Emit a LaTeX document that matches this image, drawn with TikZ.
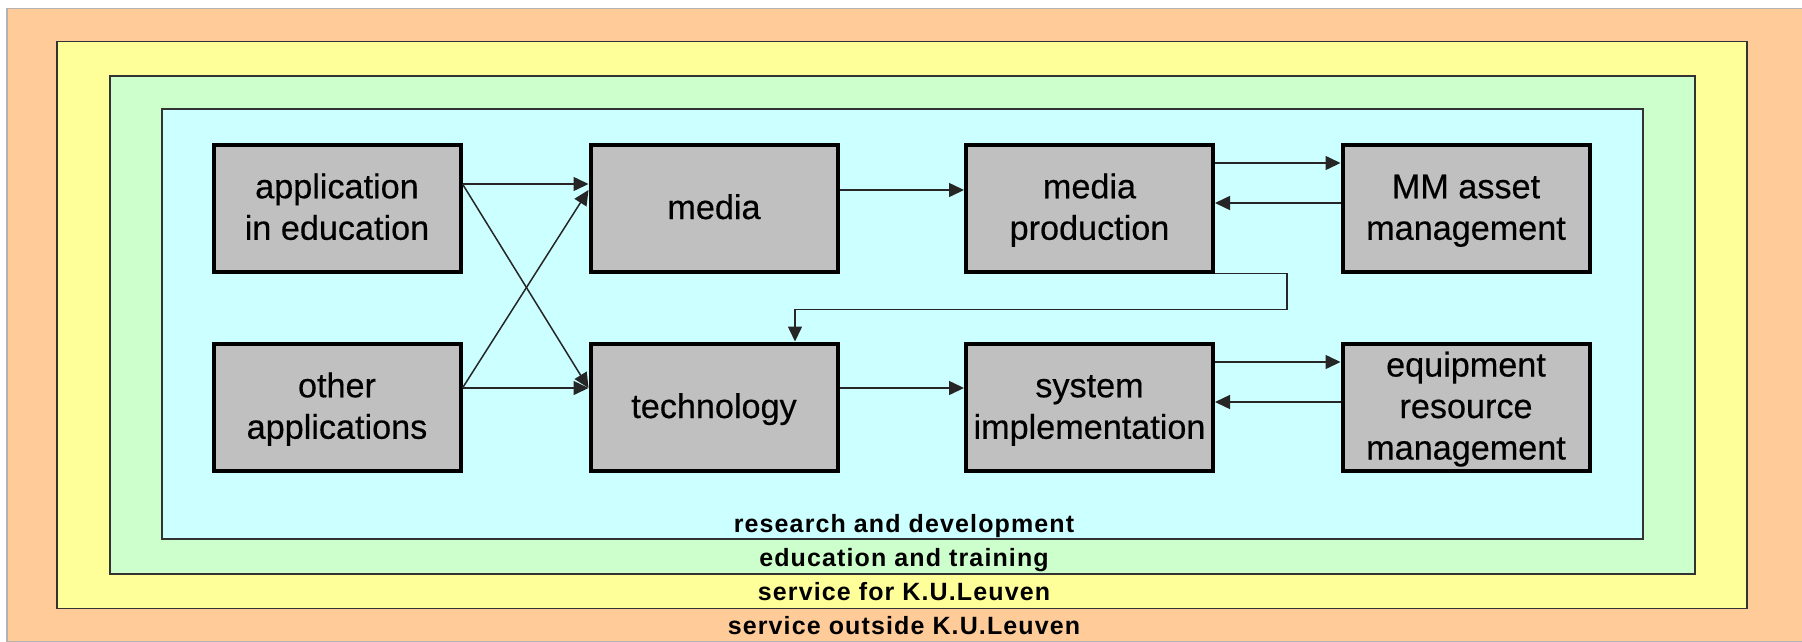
\documentclass[tikz,border=0pt]{standalone}
\usepackage{fontspec}
\setmainfont{Liberation Sans}
\usetikzlibrary{arrows.meta}
\definecolor{outerfill}{HTML}{FFCC99}
\definecolor{servicefill}{HTML}{FFFF99}
\definecolor{trainfill}{HTML}{CCFFCC}
\definecolor{researchfill}{HTML}{CCFFFF}
\definecolor{boxfill}{HTML}{C0C0C0}
\newcommand{\toplift}{\rule{0pt}{32pt}}
\newcommand{\botdrop}{\rule[-10pt]{0pt}{10pt}}
\tikzset{
	layer/.style={shape=rectangle,draw=black!80,line width=1.6pt,inner sep=0pt},
	unit/.style={shape=rectangle,draw=black,fill=boxfill,line width=4pt,minimum width=247pt,minimum height=127pt,inner sep=0pt,align=center,font=\fontsize{34.2}{41.5}\selectfont\addfontfeature{FakeBold=0.4}},
	caption/.style={inner sep=0pt,font=\fontsize{25}{28}\selectfont\bfseries\addfontfeature{LetterSpace=4.5}},
	link/.style={-{Triangle[length=15pt,width=14pt]},line width=1.5pt,draw=black!85},
}
\begin{document}
\begin{tikzpicture}[x=1pt,y=-1pt]
	\useasboundingbox (0,0) rectangle (1802,641);
	\node[layer,draw=black!30,fill=outerfill,minimum width=1796pt,minimum height=633pt] (outside) at (905,325) {};
	\node[layer,fill=servicefill,minimum width=1690pt,minimum height=567pt] (service) at (902,325) {};
	\node[layer,fill=trainfill,minimum width=1585pt,minimum height=498pt] (training) at (902.5,325) {};
	\node[layer,fill=researchfill,minimum width=1481pt,minimum height=430pt] (research) at (902.5,324) {};
	\node[unit] (app)  at (337, 208)    {\toplift application\\in education\botdrop};
	\node[unit] (media) at (714, 208)   {\toplift media\botdrop};
	\node[unit] (prod) at (1089.5, 208) {\toplift media\\production\botdrop};
	\node[unit] (asset) at (1466, 208)  {\toplift MM asset\\management\botdrop};
	\node[unit] (other) at (337, 407)   {\toplift other\\applications\botdrop};
	\node[unit] (tech) at (714, 407)    {\toplift technology\botdrop};
	\node[unit] (sys) at (1089.5, 407)  {\toplift system\\implementation\botdrop};
	\node[unit] (equip) at (1466, 407)  {\toplift equipment\\resource\\management\botdrop};
	\node[caption] (lblresearch) at (904, 526) {research and development};
	\node[caption] (lbltraining) at (904, 560.5) {education and training};
	\node[caption] (lblservice) at (904, 592) {service for K.U.Leuven};
	\node[caption] (lbloutside) at (904, 626) {service outside K.U.Leuven};
	\path ([yshift=24pt]app.east) edge[link] ([yshift=24pt]media.west);
	\path ([yshift=24pt]app.east) edge[link] ([yshift=19pt]tech.west);
	\path ([yshift=19pt]other.east) edge[link] ([yshift=18pt]media.west);
	\path ([yshift=19pt]other.east) edge[link] ([yshift=19pt]tech.west);
	\path ([yshift=18pt]media.east) edge[link] ([yshift=18pt]prod.west);
	\path ([yshift=19pt]tech.east) edge[link] ([yshift=19pt]sys.west);
	\path ([yshift=45pt]prod.east) edge[link] ([yshift=45pt]asset.west);
	\path ([yshift=5pt]asset.west) edge[link] ([yshift=5pt]prod.east);
	\path ([yshift=45pt]sys.east) edge[link] ([yshift=45pt]equip.west);
	\path ([yshift=5pt]equip.west) edge[link] ([yshift=5pt]sys.east);
	\draw[link] (prod.south east) -- ++(72,0) -- ++(0,36) -| ([xshift=81pt]tech.north);
\end{tikzpicture}
\end{document}
